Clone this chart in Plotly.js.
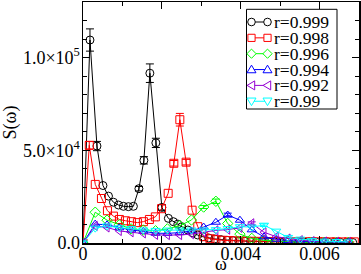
<!DOCTYPE html>
<html>
<head>
<meta charset="utf-8">
<script src="https://cdn.plot.ly/plotly-3.0.1.min.js"></script>
<style>html,body{margin:0;padding:0;background:#fff;}#chart{width:361px;height:274px;}</style>
</head>
<body>
<div id="chart"></div>
<script>
// ---- data ----
var seriesNames = ["r=0.999", "r=0.998", "r=0.996", "r=0.994", "r=0.992", "r=0.99"];

var omegaBlack = [0, 0.000177, 0.000354, 0.000506, 0.000646, 0.000772, 0.000899, 0.001025, 0.001152, 0.001278,
  0.001418, 0.001544, 0.001696, 0.001848, 0.002, 0.002165, 0.002291, 0.002405, 0.002506, 0.002658,
  0.002785, 0.002911, 0.003038, 0.00319, 0.00334, 0.0035, 0.00365, 0.0038, 0.00395, 0.0041,
  0.00425, 0.0044, 0.00455, 0.0047, 0.00486, 0.00501, 0.00516, 0.00531, 0.00547, 0.00562,
  0.00577, 0.00592, 0.00608, 0.00623, 0.00638, 0.00653, 0.00669, 0.00684];
var sBlack = [0, 109500, 52300, 31000, 25300, 22000, 20500, 19800, 19600, 19800,
  29300, 44600, 91600, 54000, 19200, 13300, 11500, 10200, 8800, 7000,
  5500, 4300, 3400, 2700, 2200, 1800, 1500, 1300, 1100, 1000,
  900, 800, 700, 650, 600, 550, 500, 500, 450, 450,
  400, 400, 400, 350, 350, 350, 300, 300];
var errBlack = [0, 6000, 2500, 0, 0, 0, 0, 0, 0, 0,
  1200, 2000, 5000, 2500, 1500, 0, 0, 0, 0, 0,
  0, 0, 0, 0, 0, 0, 0, 0, 0, 0,
  0, 0, 0, 0, 0, 0, 0, 0, 0, 0,
  0, 0, 0, 0, 0, 0, 0, 0];

var omegaRed = [0, 0.000159, 0.000311, 0.000468, 0.00062, 0.000772, 0.000924, 0.001076, 0.001228, 0.00138,
  0.001532, 0.001684, 0.001835, 0.001992, 0.00216, 0.002304, 0.002456, 0.002615, 0.002767, 0.002911,
  0.003063, 0.00322, 0.00337, 0.00352, 0.00368, 0.00383, 0.00398, 0.00413, 0.00429, 0.00444,
  0.00459, 0.00474, 0.0049, 0.00505, 0.0052, 0.00535, 0.00551, 0.00566, 0.00581, 0.00596,
  0.00612, 0.00627, 0.00642, 0.00657, 0.00673, 0.00688];
var sRed = [0, 52700, 31600, 24000, 17400, 14500, 12700, 12000, 11500, 11000,
  11500, 12700, 14100, 18500, 26800, 43000, 66500, 43600, 17700, 8800,
  3400, 2300, 1800, 1500, 1300, 1200, 1100, 1000, 950, 900,
  850, 800, 800, 750, 750, 700, 700, 700, 650, 650,
  650, 600, 600, 600, 600, 600];
var errRed = [0, 2000, 0, 0, 0, 0, 0, 0, 0, 0,
  0, 0, 0, 0, 0, 1500, 3400, 1500, 0, 0,
  0, 0, 0, 0, 0, 0, 0, 0, 0, 0,
  0, 0, 0, 0, 0, 0, 0, 0, 0, 0,
  0, 0, 0, 0, 0, 0];

var omegaCoarse = [0, 0.00031, 0.00061, 0.00092, 0.00122, 0.00153, 0.00184, 0.00214, 0.00245, 0.00275,
  0.00306, 0.00337, 0.00367, 0.00398, 0.00428, 0.00459, 0.0049, 0.0052, 0.00551, 0.00581,
  0.00612, 0.00643, 0.00673];
var sGreen  = [0, 16600, 12300, 9800, 7600, 7000, 6600, 7600, 9300, 12400, 19400, 22500, 10500, 4800, 2500, 1400, 900, 700, 500, 400, 400, 300, 300];
var sBlue   = [0, 10200, 9800, 8200, 7000, 6300, 5300, 5200, 5600, 6500, 8600, 11200, 15100, 12300, 7100, 3300, 2000, 1300, 900, 700, 600, 500, 500];
var sPurple = [0, 9200, 8400, 6500, 5800, 5200, 4400, 4300, 4300, 4800, 5800, 6800, 7200, 8200, 10600, 5800, 3400, 2400, 1500, 1000, 800, 600, 500];
var sCyan   = [0, 8000, 9200, 8200, 7800, 7000, 6800, 7000, 7000, 7000, 7000, 7200, 7800, 8800, 8600, 9600, 6400, 3000, 2100, 1400, 1000, 800, 600];
var errGreen  = [0, 0, 0, 0, 0, 0, 0, 0, 0, 0, 800, 1200, 0, 0, 0, 0, 0, 0, 0, 0, 0, 0, 0];
var errBlue   = [0, 0, 0, 0, 0, 0, 0, 0, 0, 0, 0, 0, 1000, 0, 0, 0, 0, 0, 0, 0, 0, 0, 0];
var errPurple = [0, 0, 0, 0, 0, 0, 0, 0, 0, 0, 0, 0, 0, 0, 800, 0, 0, 0, 0, 0, 0, 0, 0];
var errCyan   = [0, 0, 0, 0, 0, 0, 0, 0, 0, 0, 0, 0, 0, 0, 0, 700, 0, 0, 0, 0, 0, 0, 0];

var xTickVals = [0, 0.002, 0.004, 0.006];
var xTickText = ["0", "0.002", "0.004", "0.006"];
var yTickVals = [0, 50000, 100000];
var yTickText = ["0.0", "5.0\u00d710<sup>4</sup>", "1.0\u00d710<sup>5</sup>"];

// ---- styling ----
var colors = ["#000000", "#ff0000", "#00ff00", "#0000ff", "#9400d3", "#00ffff"];
var symbols = ["circle-open", "square-open", "diamond-open", "triangle-up-open", "triangle-left-open", "triangle-down-open"];
var FONT = "'Liberation Serif', 'Times New Roman', serif";

var W = 361, H = 274, ML = 83, MR = 2, MT = 2, MB = 31;
var PW = W - ML - MR, PH = H - MT - MB;
function px(x) { return (x - ML) / PW; }        // pixel -> paper x
function py(y) { return (H - MB - y) / PH; }    // pixel -> paper y

function errs(a) { return a.map(function (v) { return v > 0 ? v : NaN; }); }

var xs = [omegaBlack, omegaRed, omegaCoarse, omegaCoarse, omegaCoarse, omegaCoarse];
var ys = [sBlack, sRed, sGreen, sBlue, sPurple, sCyan];
var es = [errBlack, errRed, errGreen, errBlue, errPurple, errCyan];

var traces = [];
for (var i = 0; i < 6; i++) {
  traces.push({
    type: "scatter", mode: "lines+markers", name: seriesNames[i],
    x: xs[i], y: ys[i],
    line: { color: colors[i], width: 1 },
    marker: { symbol: symbols[i], size: 8, color: colors[i], line: { width: 1, color: colors[i] } },
    error_y: { type: "data", array: errs(es[i]), visible: true, color: colors[i], thickness: 1, width: 4 },
    showlegend: false
  });
}

// ---- legend drawn as layout shapes + annotations (Grace style: marker-line-marker) ----
var legendPaths = {
  "diamond-open": "M0,-4.6 L4.6,0 L0,4.6 L-4.6,0 Z",
  "triangle-up-open": "M-4.5,-3.2 L4.5,-3.2 L0,4.4 Z",
  "triangle-left-open": "M3.2,-4.5 L3.2,4.5 L-4.4,0 Z",
  "triangle-down-open": "M-4.5,3.2 L4.5,3.2 L0,-4.4 Z"
};
var shapes = [{
  type: "rect", xref: "paper", yref: "paper",
  x0: px(246.5), x1: px(337), y0: py(109), y1: py(9.3),
  fillcolor: "#ffffff", line: { color: "#000", width: 1 }, layer: "above"
}];
var annotations = [];
var rowY0 = 22, rowStep = 15.85, symL = 251.5, symR = 267.5, textX = 273;
for (var k = 0; k < 6; k++) {
  var yy = py(rowY0 + k * rowStep);
  shapes.push({ type: "line", xref: "paper", yref: "paper", x0: px(symL), x1: px(symR), y0: yy, y1: yy,
    line: { color: colors[k], width: 1 }, layer: "above" });
  [symL, symR].forEach(function (sx) {
    var s = { xref: "paper", yref: "paper", xsizemode: "pixel", ysizemode: "pixel",
      xanchor: px(sx), yanchor: yy, line: { color: colors[k], width: 1 }, fillcolor: "#ffffff", layer: "above" };
    if (symbols[k] === "circle-open") { s.type = "circle"; s.x0 = -3.8; s.x1 = 3.8; s.y0 = -3.8; s.y1 = 3.8; }
    else if (symbols[k] === "square-open") { s.type = "rect"; s.x0 = -3.6; s.x1 = 3.6; s.y0 = -3.6; s.y1 = 3.6; }
    else { s.type = "path"; s.path = legendPaths[symbols[k]]; }
    shapes.push(s);
  });
  annotations.push({ xref: "paper", yref: "paper", x: px(textX), y: yy, xanchor: "left", yanchor: "middle",
    text: seriesNames[k], showarrow: false, borderpad: 0,
    font: { family: FONT, size: 17.5, color: "#000" } });
}

var layout = {
  width: W, height: H,
  margin: { l: ML, r: MR, t: MT, b: MB, pad: 0 },
  paper_bgcolor: "#ffffff", plot_bgcolor: "#ffffff",
  font: { family: FONT, size: 18, color: "#000" },
  showlegend: false,
  shapes: shapes,
  annotations: annotations,
  xaxis: {
    range: [0, 0.007], autorange: false, automargin: false,
    tickvals: xTickVals, ticktext: xTickText,
    ticks: "inside", ticklen: 7, tickwidth: 1, tickcolor: "#000",
    minor: { ticks: "inside", dtick: 0.001, tick0: 0, ticklen: 4, tickcolor: "#000" },
    showline: true, linecolor: "#000", linewidth: 1.5, mirror: "allticks",
    showgrid: false, zeroline: false,
    ticklabelstandoff: -6,
    tickfont: { family: FONT, size: 18 },
    title: { text: "\u03c9", font: { family: FONT, size: 18 }, standoff: 9 }
  },
  yaxis: {
    range: [0, 130000], autorange: false, automargin: false,
    tickvals: yTickVals, ticktext: yTickText,
    ticks: "inside", ticklen: 7, tickwidth: 1, tickcolor: "#000",
    minor: { ticks: "inside", dtick: 10000, tick0: 0, ticklen: 4, tickcolor: "#000" },
    showline: true, linecolor: "#000", linewidth: 1.5, mirror: "allticks",
    showgrid: false, zeroline: false,
    ticklabelstandoff: -2,
    tickfont: { family: FONT, size: 18 },
    title: { text: "S(\u03c9)", font: { family: FONT, size: 18 }, standoff: 1 }
  }
};

Plotly.newPlot("chart", traces, layout, { staticPlot: true, displayModeBar: false });
</script>
</body>
</html>
